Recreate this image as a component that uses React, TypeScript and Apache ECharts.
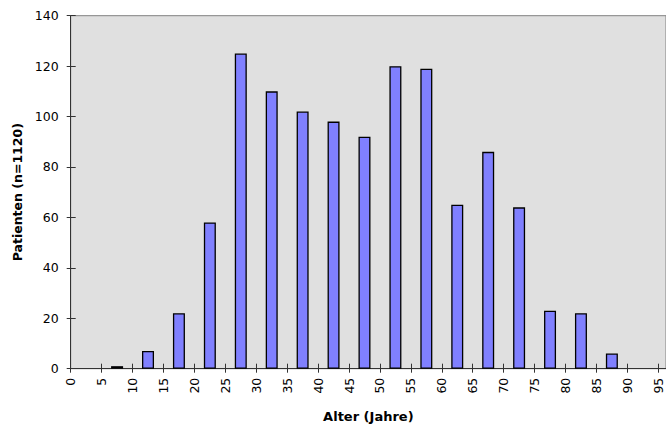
import { useEffect, useRef } from "react";
import * as echarts from "echarts";

// Age bins (lower bound of each 5-year bin) and patient counts
const binStarts = [5, 10, 15, 20, 25, 30, 35, 40, 45, 50, 55, 60, 65, 70, 75, 80, 85];
const patients = [1, 7, 22, 58, 125, 110, 102, 98, 92, 120, 119, 65, 86, 64, 23, 22, 6];
const binWidth = 5;

// Tick labels
const xTicks = [0, 5, 10, 15, 20, 25, 30, 35, 40, 45, 50, 55, 60, 65, 70, 75, 80, 85, 90, 95];
const yTicks = [0, 20, 40, 60, 80, 100, 120, 140];

const xTitle = "Alter (Jahre)";
const yTitle = "Patienten (n=1120)";

export default function App() {
  const ref = useRef<HTMLDivElement>(null);
  useEffect(() => {
    const chart = echarts.init(ref.current!, null, { renderer: "svg" });
    const font = "'DejaVu Sans', 'Liberation Sans', sans-serif";
    const axisColor = "#333333";
    const xMax = 96.25;
    chart.setOption({
      animation: false,
      grid: {
        left: 70.7,
        right: 0,
        top: 15.7,
        bottom: 56.3,
        outerBoundsMode: "none",
        containLabel: false,
        show: true,
        backgroundColor: "#e0e0e0",
        borderColor: "#808080",
        borderWidth: 1,
      },
      xAxis: [
        {
          type: "value",
          min: 0,
          max: xMax,
          position: "bottom",
          name: xTitle,
          nameLocation: "middle",
          nameGap: 40,
          nameTextStyle: { fontWeight: "bold", fontSize: 13, lineHeight: 15, color: "#000", fontFamily: font },
          axisLine: { show: true, lineStyle: { color: axisColor, width: 1 } },
          axisTick: { show: true, length: 4, customValues: xTicks, lineStyle: { color: axisColor } },
          axisLabel: { customValues: xTicks, rotate: 90, margin: 9, fontSize: 12.5, color: "#000", fontFamily: font },
          splitLine: { show: false },
        },
        {
          type: "value",
          min: 0,
          max: xMax,
          position: "bottom",
          axisLine: { show: false },
          axisTick: { show: true, inside: true, length: 5, customValues: xTicks, lineStyle: { color: axisColor } },
          axisLabel: { show: false },
          splitLine: { show: false },
        },
      ],
      yAxis: [
        {
          type: "value",
          min: 0,
          max: 140,
          interval: 20,
          position: "left",
          name: yTitle,
          nameLocation: "middle",
          nameRotate: 90,
          nameGap: 47,
          nameTextStyle: { fontWeight: "bold", fontSize: 12.5, color: "#000", fontFamily: font },
          axisLine: { show: true, lineStyle: { color: axisColor, width: 1 } },
          axisTick: { show: true, length: 4, customValues: yTicks, lineStyle: { color: axisColor } },
          axisLabel: { customValues: yTicks, margin: 12, fontSize: 12.5, color: "#000", fontFamily: font },
          splitLine: { show: false },
        },
        {
          type: "value",
          min: 0,
          max: 140,
          interval: 20,
          position: "left",
          axisLine: { show: false },
          axisTick: { show: true, inside: true, length: 5, customValues: yTicks, lineStyle: { color: axisColor } },
          axisLabel: { show: false },
          splitLine: { show: false },
        },
      ],
      series: [
        {
          type: "bar",
          xAxisIndex: 0,
          yAxisIndex: 0,
          data: binStarts.map((s, i) => [s + binWidth / 2, patients[i]]),
          barWidth: 12,
          itemStyle: { color: "#8080ff", borderColor: "#000", borderWidth: 1.3 },
        },
      ],
    });
    return () => chart.dispose();
  }, []);
  return (
    <div
      ref={ref}
      style={{ position: "fixed", left: 0, top: 0, width: 666, height: 425, background: "#fff" }}
    />
  );
}
